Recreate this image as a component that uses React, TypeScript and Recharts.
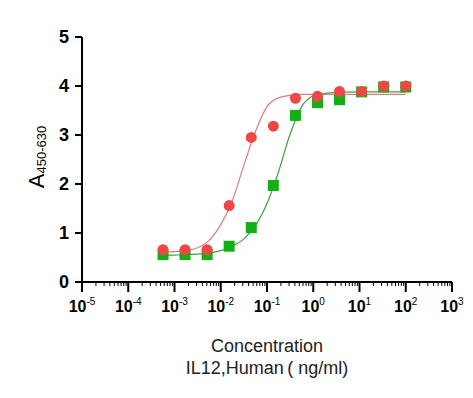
import React from 'react';
import { ComposedChart, Line, Scatter, XAxis, YAxis } from 'recharts';

// Concentration (ng/ml), 3-fold dilution series
const concentrations = [0.000565, 0.00169, 0.00508, 0.0152, 0.0457, 0.137, 0.412, 1.235, 3.7, 11.1, 33.3, 100];
const redValues = [0.66, 0.66, 0.66, 1.56, 2.95, 3.18, 3.75, 3.79, 3.89, 3.89, 4.0, 4.0];
const greenValues = [0.56, 0.56, 0.56, 0.73, 1.11, 1.97, 3.4, 3.66, 3.72, 3.88, 3.98, 3.98];

// Fitted curves (log10 concentration, A450-630)
const redCurveLogX = [-3.25, -3.0, -2.75, -2.5, -2.25, -2.0, -1.75, -1.5, -1.25, -1.0, -0.75, -0.5, -0.25, 0, 0.5, 1.0, 2.0];
const redCurveY = [0.61, 0.62, 0.64, 0.7, 0.85, 1.17, 1.66, 2.38, 3.07, 3.58, 3.76, 3.81, 3.83, 3.83, 3.83, 3.83, 3.83];
const greenCurveLogX = [-3.25, -3.0, -2.75, -2.5, -2.25, -2.0, -1.75, -1.5, -1.25, -1.0, -0.75, -0.5, -0.25, 0, 0.25, 0.5, 1.0, 2.0];
const greenCurveY = [0.55, 0.55, 0.56, 0.57, 0.59, 0.64, 0.73, 0.88, 1.15, 1.6, 2.25, 3.02, 3.58, 3.8, 3.85, 3.87, 3.88, 3.88];

const xExponents = [-5, -4, -3, -2, -1, 0, 1, 2, 3];
const yTicks = [0, 1, 2, 3, 4, 5];
const minorMultipliers = [2, 3, 4, 5, 6, 7, 8, 9];

const redPoints = concentrations.map((c, i) => ({ x: Math.log10(c), y: redValues[i] }));
const greenPoints = concentrations.map((c, i) => ({ x: Math.log10(c), y: greenValues[i] }));
const redCurve = redCurveLogX.map((x, i) => ({ x, y: redCurveY[i] }));
const greenCurve = greenCurveLogX.map((x, i) => ({ x, y: greenCurveY[i] }));

const xTicks: number[] = [];
xExponents.forEach((e) => {
  xTicks.push(e);
  if (e < 3) minorMultipliers.forEach((m) => xTicks.push(e + Math.log10(m)));
});

const FONT = '"Liberation Sans", Arial, Helvetica, sans-serif';
const RED = '#ef4747';
const GREEN = '#12b012';

const XTick = (props: any) => {
  const { x, y, payload } = props;
  const v = payload.value as number;
  const rounded = Math.round(v);
  const isMajor = Math.abs(v - rounded) < 1e-6;
  if (!isMajor) {
    return <line x1={x} x2={x} y1={y} y2={y + 4} stroke="#000" strokeWidth={1} />;
  }
  return (
    <g>
      <line x1={x} x2={x} y1={y} y2={y + 10} stroke="#000" strokeWidth={2} />
      <text x={x} y={y + 29.5} textAnchor="middle" fontFamily={FONT} fill="#000">
        <tspan fontSize={16} fontWeight="bold">10</tspan>
        <tspan fontSize={10} dy={-7}>{rounded}</tspan>
      </text>
    </g>
  );
};

const XTitle = (props: any) => {
  const vb = props.viewBox || {};
  const cx = vb.x + vb.width / 2;
  return (
    <g fontFamily={FONT} fill="#222">
      <text x={cx} y={vb.y + 70} textAnchor="middle" fontSize={18} fill="#222">Concentration</text>
      <text x={cx} y={vb.y + 92} textAnchor="middle" fontSize={18} fill="#222">{'IL12,Human\u2009( ng/ml)'}</text>
    </g>
  );
};

const YTitle = () => {
  const x0 = 44;
  const y0 = 157;
  return (
    <text
      x={x0}
      y={y0}
      transform={`rotate(-90, ${x0}, ${y0})`}
      textAnchor="middle"
      fontFamily={FONT}
      fill="#000"
    >
      <tspan fontSize={22}>A</tspan>
      <tspan fontSize={13} dy={2}>450-630</tspan>
    </text>
  );
};

const Circle = (props: any) => <circle cx={props.cx} cy={props.cy} r={5.5} fill={RED} />;
const Square = (props: any) => (
  <rect x={props.cx - 5.5} y={props.cy - 5.5} width={11} height={11} fill={GREEN} />
);

export default function App() {
  return (
    <div style={{ position: 'absolute', left: 0, top: 0, background: '#fff' }}>
      <ComposedChart width={473} height={398} margin={{ top: 37, right: 21, bottom: 0, left: 0 }}>
        <XAxis
          type="number"
          dataKey="x"
          domain={[-5, 3]}
          ticks={xTicks}
          interval={0}
          allowDataOverflow
          height={116}
          tickSize={0}
          tickMargin={0}
          tickLine={false}
          axisLine={{ stroke: '#000', strokeWidth: 2 }}
          tick={<XTick />}
          label={{ content: <XTitle /> }}
        />
        <YAxis
          type="number"
          dataKey="y"
          domain={[0, 5]}
          ticks={yTicks}
          interval={0}
          width={82}
          tickSize={7}
          tickMargin={6}
          tickLine={{ stroke: '#000', strokeWidth: 2 }}
          axisLine={{ stroke: '#000', strokeWidth: 2 }}
          tick={{ fontFamily: FONT, fontSize: 18, fontWeight: 'bold', fill: '#000' }}
          label={{ content: <YTitle /> }}
        />
        <Line
          data={greenCurve}
          dataKey="y"
          type="monotone"
          stroke="#3f9f45"
          strokeWidth={1.2}
          dot={false}
          activeDot={false}
          isAnimationActive={false}
        />
        <Line
          data={redCurve}
          dataKey="y"
          type="monotone"
          stroke="#e27a86"
          strokeWidth={1.2}
          dot={false}
          activeDot={false}
          isAnimationActive={false}
        />
        <Scatter data={greenPoints} dataKey="y" shape={<Square />} isAnimationActive={false} />
        <Scatter data={redPoints} dataKey="y" shape={<Circle />} isAnimationActive={false} />
      </ComposedChart>
    </div>
  );
}
